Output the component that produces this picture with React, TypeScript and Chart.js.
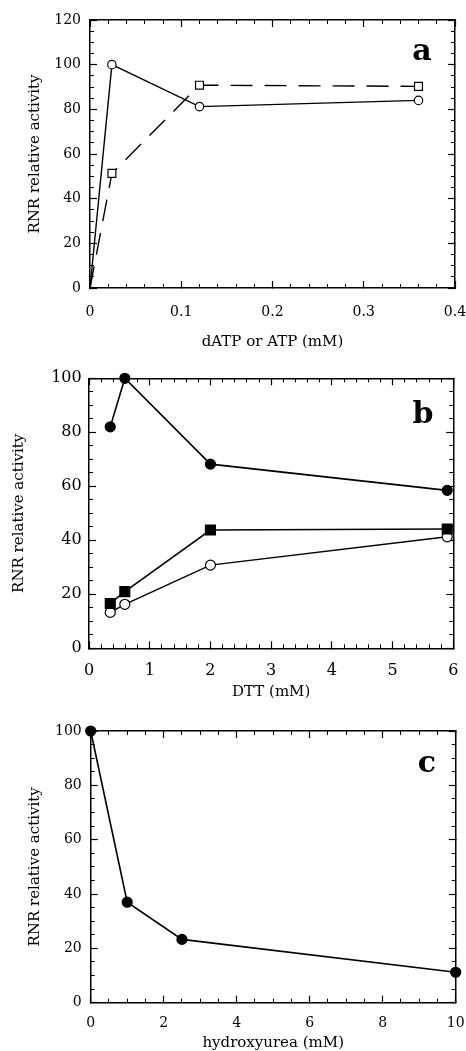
import React, { useEffect, useRef } from 'react';
import { Chart, registerables } from 'chart.js';

Chart.register(...registerables);

// ---------- Panel a ----------
const aX = [0, 0.024, 0.12, 0.36];
const aOpenCircle = [0, 100, 81.2, 84];
const aOpenSquare = [0, 51.3, 90.8, 90.3];
const aXTitle = 'dATP or ATP (mM)';

// ---------- Panel b ----------
const bX = [0.35, 0.59, 2, 5.9];
const bFilledCircle = [82, 100, 68.2, 58.5];
const bFilledSquare = [16.6, 21, 43.8, 44.2];
const bOpenCircle = [13.3, 16.3, 30.8, 41.3];
const bXTitle = 'DTT (mM)';

// ---------- Panel c ----------
const cX = [0, 1, 2.5, 10];
const cFilledCircle = [100, 37, 23.3, 11.2];
const cXTitle = 'hydroxyurea (mM)';

const yTitle = 'RNR relative activity';

const FONT = '"DejaVu Serif", "Liberation Serif", serif';

const pts = (xs: number[], ys: number[]) => xs.map((x, i) => ({ x, y: ys[i] }));

const letterPlugin = {
  id: 'panelLetter',
  afterDraw(chart: any, _args: any, opts: any) {
    if (!opts || !opts.text) return;
    const { ctx } = chart;
    ctx.save();
    ctx.font = `bold ${opts.size}px ${FONT}`;
    ctx.fillStyle = '#000';
    ctx.textAlign = 'center';
    ctx.textBaseline = 'alphabetic';
    ctx.fillText(opts.text, opts.x, opts.y);
    ctx.restore();
  },
};

type Spec = {
  height: number;
  padTop: number;
  padRight: number;
  xAxisH: number;
  yAxisW: number;
  xMin: number; xMax: number; xStep: number; xMinor: number;
  yMin: number; yMax: number; yStep: number; yMinor: number;
  tickSize: number;
  xTickPad: number;
  yTickPad: number;
  xTitle: string;
  xTitlePad: number;
  yTitlePad: number;
  letter: { text: string; x: number; y: number; size: number };
  datasets: any[];
};

const clearPad = (sc: any) => {
  sc.paddingLeft = 0;
  sc.paddingRight = 0;
  sc.paddingTop = 0;
  sc.paddingBottom = 0;
};

function buildScales(s: Spec) {
  const tickFont = { family: FONT, size: s.tickSize, lineHeight: 1.2 };
  const titleFont = { family: FONT, size: 15, lineHeight: 1 };
  const border = { display: true, color: '#000', width: 1.5 };
  const noBorder = { display: false };
  const major = {
    display: true, drawOnChartArea: false, drawTicks: true, tickLength: -7,
    tickWidth: 1.2, tickColor: '#000', color: '#000', lineWidth: 1,
  };
  const minor = { ...major, tickLength: -4, tickWidth: 1 };
  const zeroH = (sc: any) => { sc.height = 0; clearPad(sc); };
  const zeroW = (sc: any) => { sc.width = 0; clearPad(sc); };
  const hidden = (step: number) => ({ display: false, stepSize: step, autoSkip: false });
  return {
    x: {
      type: 'linear', position: 'bottom', weight: 1, min: s.xMin, max: s.xMax,
      ticks: { stepSize: s.xStep, font: tickFont, color: '#000', padding: s.xTickPad, maxRotation: 0, autoSkip: false },
      grid: major, border,
      title: { display: true, text: s.xTitle, font: titleFont, color: '#000', padding: { top: 0, bottom: s.xTitlePad } },
      afterFit: (sc: any) => { sc.height = s.xAxisH; clearPad(sc); },
    },
    xm: {
      type: 'linear', position: 'bottom', weight: 0, min: s.xMin, max: s.xMax,
      ticks: hidden(s.xMinor), grid: minor, border: noBorder, afterFit: zeroH,
    },
    xt: {
      type: 'linear', position: 'top', weight: 1, min: s.xMin, max: s.xMax,
      ticks: hidden(s.xStep), grid: major, border, afterFit: zeroH,
    },
    xtm: {
      type: 'linear', position: 'top', weight: 0, min: s.xMin, max: s.xMax,
      ticks: hidden(s.xMinor), grid: minor, border: noBorder, afterFit: zeroH,
    },
    y: {
      type: 'linear', position: 'left', weight: 1, min: s.yMin, max: s.yMax,
      ticks: { stepSize: s.yStep, font: tickFont, color: '#000', padding: s.yTickPad, autoSkip: false },
      grid: major, border,
      title: { display: true, text: yTitle, font: titleFont, color: '#000', padding: { top: s.yTitlePad, bottom: 0 } },
      afterFit: (sc: any) => { sc.width = s.yAxisW; clearPad(sc); },
    },
    ym: {
      type: 'linear', position: 'left', weight: 0, min: s.yMin, max: s.yMax,
      ticks: hidden(s.yMinor), grid: minor, border: noBorder, afterFit: zeroW,
    },
    yr: {
      type: 'linear', position: 'right', weight: 1, min: s.yMin, max: s.yMax,
      ticks: hidden(s.yStep), grid: major, border, afterFit: zeroW,
    },
    yrm: {
      type: 'linear', position: 'right', weight: 0, min: s.yMin, max: s.yMax,
      ticks: hidden(s.yMinor), grid: minor, border: noBorder, afterFit: zeroW,
    },
  };
}

function line(data: any[], opts: any) {
  return {
    data,
    xAxisID: 'x',
    yAxisID: 'y',
    showLine: true,
    borderColor: '#000',
    borderWidth: 1.5,
    pointBorderColor: '#000',
    pointBorderWidth: 1.2,
    pointHoverRadius: 0,
    tension: 0,
    clip: false,
    ...opts,
  };
}

const specA: Spec = {
  height: 360, padTop: 20, padRight: 11, xAxisH: 72, yAxisW: 90,
  xMin: 0, xMax: 0.4, xStep: 0.1, xMinor: 0.02,
  yMin: 0, yMax: 120, yStep: 20, yMinor: 5,
  tickSize: 14, xTickPad: 23, yTickPad: 16,
  xTitle: aXTitle, xTitlePad: 10.8, yTitlePad: 27.5,
  letter: { text: 'a', x: 422, y: 60, size: 30 },
  datasets: [
    line(pts(aX, aOpenCircle), {
      pointStyle: 'circle', pointRadius: [0, 4.2, 4.2, 4.2], pointBackgroundColor: '#fff', borderWidth: 1.4,
    }),
    line(pts(aX, aOpenSquare), {
      pointStyle: 'rect', pointRadius: [0, 5.6, 5.6, 5.6], pointBackgroundColor: '#fff', borderWidth: 1.4,
      borderDash: [22, 12],
    }),
  ],
};

const specB: Spec = {
  height: 360, padTop: 18.3, padRight: 12.7, xAxisH: 71.7, yAxisW: 89,
  xMin: 0, xMax: 6, xStep: 1, xMinor: 0.2,
  yMin: 0, yMax: 100, yStep: 20, yMinor: 5,
  tickSize: 16, xTickPad: 20, yTickPad: 14.3,
  xTitle: bXTitle, xTitlePad: 20.8, yTitlePad: 11.5,
  letter: { text: 'b', x: 423, y: 63, size: 30 },
  datasets: [
    line(pts(bX, bFilledCircle), {
      pointStyle: 'circle', pointRadius: 5, pointBackgroundColor: '#000', borderWidth: 1.6,
    }),
    line(pts(bX, bFilledSquare), {
      pointStyle: 'rect', pointRadius: 7, pointBackgroundColor: '#000', borderWidth: 1.6,
    }),
    line(pts(bX, bOpenCircle), {
      pointStyle: 'circle', pointRadius: 5, pointBackgroundColor: '#fff', borderWidth: 1.4,
    }),
  ],
};

const specC: Spec = {
  height: 331, padTop: 11, padRight: 10.3, xAxisH: 48.3, yAxisW: 90.7,
  xMin: 0, xMax: 10, xStep: 2, xMinor: 0.5,
  yMin: 0, yMax: 100, yStep: 20, yMinor: 5,
  tickSize: 14, xTickPad: 19, yTickPad: 16,
  xTitle: cXTitle, xTitlePad: 0.2, yTitlePad: 27.5,
  letter: { text: 'c', x: 427, y: 52, size: 30 },
  datasets: [
    line(pts(cX, cFilledCircle), {
      pointStyle: 'circle', pointRadius: 5, pointBackgroundColor: '#000', borderWidth: 1.6,
    }),
  ],
};

function Panel({ spec }: { spec: Spec }) {
  const ref = useRef<HTMLCanvasElement>(null);
  useEffect(() => {
    if (!ref.current) return;
    const chart = new Chart(ref.current, {
      type: 'scatter',
      data: { datasets: spec.datasets },
      options: {
        animation: false,
        responsive: false,
        maintainAspectRatio: false,
        devicePixelRatio: 1,
        events: [],
        layout: { padding: { top: spec.padTop, right: spec.padRight, left: 0, bottom: 0 } },
        scales: buildScales(spec) as any,
        plugins: {
          legend: { display: false },
          tooltip: { enabled: false },
          panelLetter: spec.letter,
        } as any,
      },
      plugins: [letterPlugin],
    } as any);
    return () => chart.destroy();
  }, [spec]);
  return (
    <canvas
      ref={ref}
      width={466}
      height={spec.height}
      style={{ display: 'block', width: 466, height: spec.height }}
    />
  );
}

export default function App() {
  return (
    <div style={{ position: 'absolute', left: 0, top: 0, width: 466, height: 1051, background: '#fff', overflow: 'hidden' }}>
      <Panel spec={specA} />
      <Panel spec={specB} />
      <Panel spec={specC} />
    </div>
  );
}
